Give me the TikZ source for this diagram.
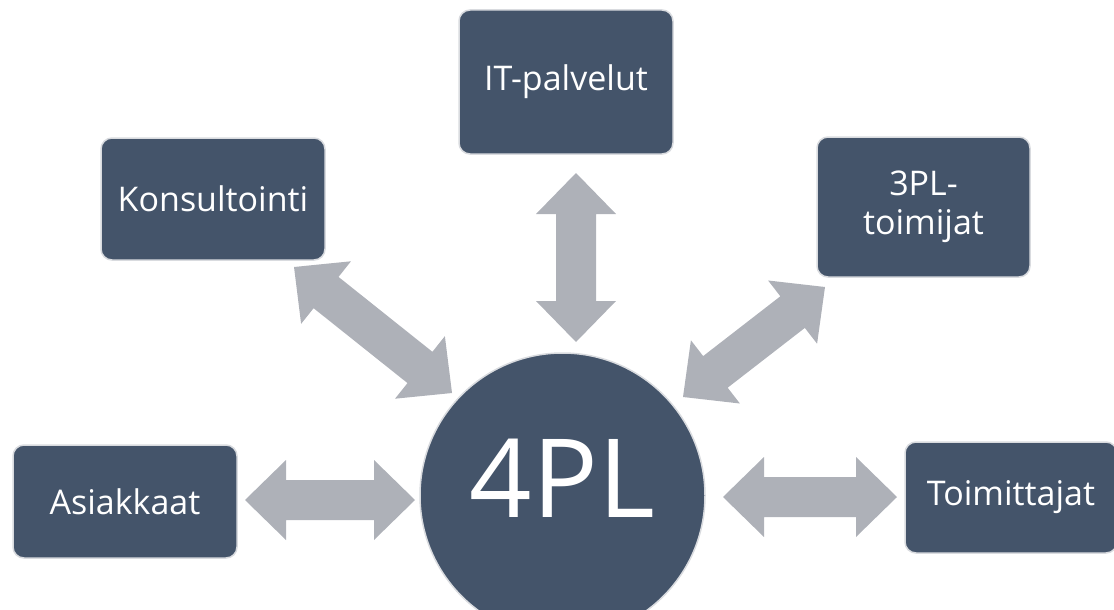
\documentclass[tikz,border=0pt]{standalone}
\usepackage{fontspec}
\setmainfont{Open Sans}
\usetikzlibrary{calc}

% one drawing unit = one pixel of the 1114 x 610 canvas
\newdimen\u \u=0.75pt

\definecolor{slate}{HTML}{44546A}
\definecolor{rim}{HTML}{D9DBDF}
\definecolor{arrowgray}{HTML}{AEB1B8}

% block double arrow between two named points
\newcommand{\blockarrow}[2]{%
  \coordinate (h1) at ($(#1)!41\u!(#2)$);
  \coordinate (h2) at ($(#2)!41\u!(#1)$);
  \fill[arrowgray]
    (#1) -- ($(h1)!40\u!90:(#2)$) -- ($(h1)!20\u!90:(#2)$)
    -- ($(h2)!20\u!-90:(#1)$) -- ($(h2)!40\u!-90:(#1)$)
    -- (#2) -- ($(h2)!40\u!90:(#1)$) -- ($(h2)!20\u!90:(#1)$)
    -- ($(h1)!20\u!-90:(#2)$) -- ($(h1)!40\u!-90:(#2)$) -- cycle;}

\begin{document}
\begin{tikzpicture}[x=0.75pt, y=-0.75pt,
  partner/.style={draw=rim, line width=1.5\u, fill=slate, rounded corners=11\u,
    text=white, font=\fontsize{25.5}{29.5}\selectfont, align=center, inner sep=0pt},
  hub/.style={circle, draw=rim, line width=1.5\u, fill=slate, minimum size=285\u,
    inner sep=0pt},
  hubtext/.style={text=white, font=\fontsize{82}{90}\selectfont, inner sep=0pt, anchor=base}]

\useasboundingbox (0,0) rectangle (1114,610);

% partner boxes
\node[partner, minimum width=224\u, minimum height=122\u] (kons) at (213,199) {Konsultointi};
\node[partner, minimum width=214\u, minimum height=144\u] (it) at (566,82) {IT-palvelut};
\node[partner, minimum width=213\u, minimum height=140\u] (tpl) at (923.5,207) {3PL-\\toimijat};
\node[partner, minimum width=224\u, minimum height=113\u] (asi) at (125,501.5) {Asiakkaat};
\node[partner, minimum width=212\u, minimum height=111\u] (toi) at (1011,497.5) {Toimittajat};

% central circle and its title
\node[hub] (hub) at (562.5,495.5) {};
\node[hubtext] (hubname) at ($(hub.center)+(0,21.5)$) {4PL};

% arrow end points
\coordinate (itA) at (576,173);
\coordinate (itB) at (576,342);
\coordinate (konsA) at (294,267);
\coordinate (konsB) at (452,393);
\coordinate (tplA) at (825,287);
\coordinate (tplB) at (683,397);
\coordinate (asiA) at (245,500);
\coordinate (asiB) at (415,500);
\coordinate (toiA) at (723,497);
\coordinate (toiB) at (897,497);

\blockarrow{itA}{itB}
\blockarrow{konsA}{konsB}
\blockarrow{tplA}{tplB}
\blockarrow{asiA}{asiB}
\blockarrow{toiA}{toiB}
\end{tikzpicture}
\end{document}
